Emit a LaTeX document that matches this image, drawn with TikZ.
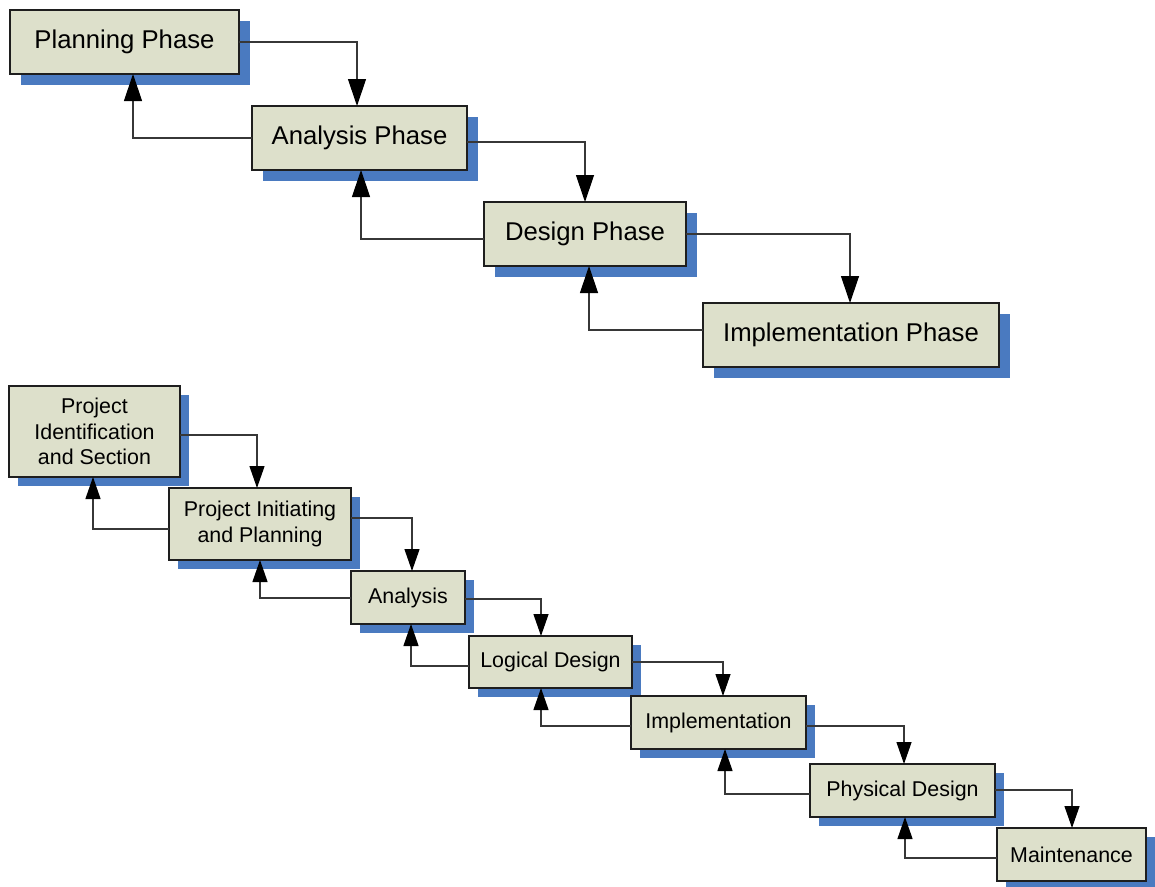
\documentclass[tikz,border=0pt]{standalone}
\usepackage{fontspec}
\setmainfont{Liberation Sans}
\usetikzlibrary{arrows.meta,shadows}

\definecolor{boxfill}{RGB}{221,224,203}
\definecolor{shadowblue}{RGB}{74,122,192}
\definecolor{boxline}{RGB}{30,30,30}
\definecolor{linkline}{RGB}{55,55,55}

\tikzset{
  phase/.style={draw=boxline, line width=1.1pt, fill=boxfill, inner sep=0pt, outer sep=0pt,
    anchor=north west, align=center,
    font=\fontsize{25.7}{30}\selectfont,
    drop shadow={shadow xshift=11pt, shadow yshift=-11pt, fill=shadowblue, opacity=1, draw=none}},
  stage/.style={draw=boxline, line width=1.1pt, fill=boxfill, inner sep=0pt, outer sep=0pt,
    anchor=north west, align=center,
    font=\fontsize{21.4}{25.5}\selectfont,
    drop shadow={shadow xshift=9pt, shadow yshift=-9pt, fill=shadowblue, opacity=1, draw=none}},
  biglink/.style={draw=linkline, line width=1.2pt,
    -{Triangle[length=27pt,width=18pt,color=black,fill=black]}},
  smalllink/.style={draw=linkline, line width=1.2pt,
    -{Triangle[length=22pt,width=15pt,color=black,fill=black]}},
}

\begin{document}
\begin{tikzpicture}[x=1pt, y=-1pt]
\useasboundingbox (0,0) rectangle (1155,886);

% ---------- four-phase waterfall ----------
\node[phase, minimum width=229pt, minimum height=64pt] (pp) at (10,10) {Planning Phase};
\node[phase, minimum width=215pt, minimum height=64pt] (ap) at (252,106) {Analysis Phase};
\node[phase, minimum width=202pt, minimum height=64pt] (dp) at (484,202) {Design Phase};
\node[phase, minimum width=296pt, minimum height=64pt] (ip) at (703,303) {Implementation Phase};

\draw[biglink] (pp.east |- 0,42) -| (357,0 |- ap.north);
\draw[biglink] (ap.west |- 0,138) -| (133,0 |- pp.south);
\draw[biglink] (ap.east |- 0,142) -| (585,0 |- dp.north);
\draw[biglink] (dp.west |- 0,239) -| (361,0 |- ap.south);
\draw[biglink] (dp.east |- 0,234) -| (850,0 |- ip.north);
\draw[biglink] (ip.west |- 0,330) -| (589,0 |- dp.south);

% ---------- seven-stage waterfall ----------
\node[stage, minimum width=171pt, minimum height=91pt] (pi) at (9,386) {Project\\Identification\\and Section};
\node[stage, minimum width=182pt, minimum height=72pt] (pip) at (169,488) {Project Initiating\\and Planning};
\node[stage, minimum width=114pt, minimum height=53pt] (an) at (351,571) {Analysis};
\node[stage, minimum width=163pt, minimum height=52pt] (ld) at (469,636) {Logical Design};
\node[stage, minimum width=175pt, minimum height=53pt] (im) at (631,696) {Implementation};
\node[stage, minimum width=185pt, minimum height=53pt] (pd) at (810,764) {Physical Design};
\node[stage, minimum width=149pt, minimum height=53pt] (mt) at (997,828) {Maintenance};

\draw[smalllink] (pi.east |- 0,435) -| (257,0 |- pip.north);
\draw[smalllink] (pip.west |- 0,529) -| (93,0 |- pi.south);
\draw[smalllink] (pip.east |- 0,518) -| (412,0 |- an.north);
\draw[smalllink] (an.west |- 0,598) -| (260,0 |- pip.south);
\draw[smalllink] (an.east |- 0,599) -| (541,0 |- ld.north);
\draw[smalllink] (ld.west |- 0,666) -| (411,0 |- an.south);
\draw[smalllink] (ld.east |- 0,662) -| (723,0 |- im.north);
\draw[smalllink] (im.west |- 0,726) -| (541,0 |- ld.south);
\draw[smalllink] (im.east |- 0,726) -| (904,0 |- pd.north);
\draw[smalllink] (pd.west |- 0,794) -| (725,0 |- im.south);
\draw[smalllink] (pd.east |- 0,790) -| (1072,0 |- mt.north);
\draw[smalllink] (mt.west |- 0,858) -| (905,0 |- pd.south);
\end{tikzpicture}
\end{document}
